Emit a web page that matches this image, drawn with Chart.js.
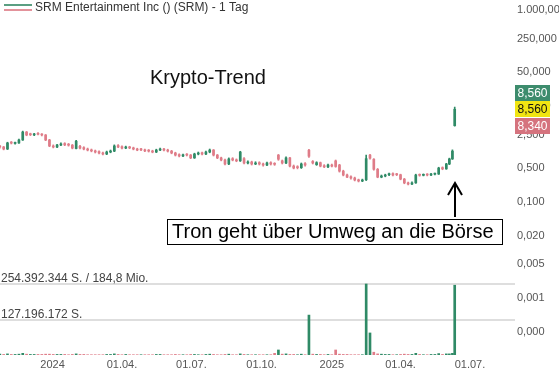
<!DOCTYPE html>
<html>
<head>
<meta charset="utf-8">
<script src="https://cdn.jsdelivr.net/npm/chart.js@4.4.0/dist/chart.umd.min.js"></script>
<style>
  html, body { margin: 0; padding: 0; background: #fff; }
  #wrap { width: 559px; height: 374px; }
</style>
</head>
<body>
<div id="wrap"><canvas id="priceChart" width="559" height="374"></canvas></div>
<script>
// Calendar days counted from 01.01.2024
const days = [-69, -64, -59, -54, -49, -44, -39, -34, -29, -24, -19, -14, -9, -4, 1, 6, 11, 16, 21, 26,
    31, 36, 41, 46, 51, 56, 61, 66, 71, 76, 81, 86, 91, 96, 101, 106, 111, 116, 121, 126,
    131, 136, 141, 146, 151, 156, 161, 166, 171, 176, 181, 186, 191, 196, 201, 206, 211, 216, 221, 226,
    231, 236, 241, 246, 251, 256, 261, 266, 271, 276, 281, 286, 291, 296, 301, 306, 311, 316, 321, 326,
    331, 336, 341, 346, 351, 356, 361, 366, 371, 376, 381, 386, 391, 396, 401, 406, 411, 416, 421, 426,
    431, 436, 441, 446, 451, 456, 461, 466, 471, 476, 481, 486, 491, 496, 501, 506, 511, 516, 520, 524, 527];

const opens = [1.45, 1.40, 1.27, 1.75, 1.66, 1.70, 1.96, 2.87, 2.60, 2.50, 2.70, 2.58, 2.49, 1.96, 1.47, 1.40, 1.54, 1.65, 1.60, 1.53,
    1.30, 1.45, 1.36, 1.27, 1.21, 1.16, 1.12, 1.05, 1.00, 1.10, 1.15, 1.50, 1.42, 1.33, 1.40, 1.34, 1.27, 1.26, 1.22, 1.19,
    1.15, 1.10, 1.21, 1.27, 1.21, 1.15, 1.05, 0.97, 0.91, 0.98, 0.95, 0.83, 1.00, 1.06, 1.00, 1.10, 1.21, 0.95, 0.83, 0.75,
    0.62, 0.80, 0.75, 0.72, 0.80, 0.65, 0.68, 0.62, 0.66, 0.62, 0.59, 0.66, 0.63, 0.95, 0.72, 0.65, 0.83, 0.56, 0.54, 0.52,
    0.63, 1.20, 0.70, 0.60, 0.66, 0.57, 0.54, 0.59, 0.72, 0.59, 0.44, 0.365, 0.335, 0.316, 0.29, 0.274, 0.29, 0.95, 0.78, 0.48,
    0.33, 0.348, 0.37, 0.39, 0.38, 0.37, 0.30, 0.25, 0.237, 0.25, 0.37, 0.36, 0.375, 0.365, 0.38, 0.383, 0.52, 0.49, 0.62, 0.79,
    3.90];

const highs = [1.52, 1.44, 1.76, 1.82, 1.78, 2.05, 3.00, 2.95, 2.72, 2.70, 2.78, 2.66, 2.55, 2.02, 1.55, 1.60, 1.70, 1.72, 1.66, 1.58,
    1.92, 1.52, 1.42, 1.33, 1.27, 1.21, 1.17, 1.10, 1.15, 1.21, 1.55, 1.57, 1.48, 1.46, 1.45, 1.39, 1.32, 1.31, 1.27, 1.24,
    1.20, 1.26, 1.33, 1.31, 1.26, 1.19, 1.09, 1.01, 1.00, 1.02, 0.98, 1.04, 1.10, 1.10, 1.15, 1.27, 1.24, 0.98, 0.86, 0.78,
    0.83, 0.84, 0.79, 1.14, 0.84, 0.72, 0.71, 0.69, 0.69, 0.65, 0.68, 0.69, 0.66, 0.98, 0.75, 0.87, 0.85, 0.59, 0.57, 0.65,
    0.66, 1.25, 0.73, 0.69, 0.68, 0.60, 0.62, 0.62, 0.75, 0.61, 0.46, 0.38, 0.35, 0.33, 0.30, 0.30, 0.95, 0.99, 0.80, 0.50,
    0.365, 0.38, 0.40, 0.405, 0.395, 0.38, 0.31, 0.26, 0.262, 0.38, 0.385, 0.385, 0.39, 0.395, 0.40, 0.53, 0.54, 0.64, 0.82, 1.22,
    9.50];

const lows = [1.33, 1.22, 1.24, 1.62, 1.60, 1.66, 1.92, 2.40, 2.42, 2.41, 2.50, 2.38, 1.90, 1.42, 1.34, 1.36, 1.50, 1.49, 1.46, 1.28,
    1.27, 1.28, 1.22, 1.16, 1.11, 1.05, 1.01, 0.96, 0.97, 1.06, 1.12, 1.35, 1.28, 1.29, 1.29, 1.22, 1.17, 1.17, 1.12, 1.10,
    1.06, 1.07, 1.17, 1.16, 1.10, 1.01, 0.91, 0.87, 0.88, 0.91, 0.80, 0.81, 0.96, 0.96, 0.97, 1.06, 0.91, 0.80, 0.72, 0.59,
    0.60, 0.72, 0.69, 0.70, 0.62, 0.62, 0.59, 0.60, 0.59, 0.56, 0.57, 0.59, 0.58, 0.74, 0.62, 0.63, 0.54, 0.49, 0.49, 0.50,
    0.56, 0.85, 0.62, 0.58, 0.54, 0.52, 0.52, 0.54, 0.53, 0.42, 0.35, 0.32, 0.30, 0.275, 0.262, 0.265, 0.28, 0.78, 0.46, 0.32,
    0.32, 0.335, 0.355, 0.35, 0.355, 0.29, 0.24, 0.228, 0.23, 0.245, 0.345, 0.35, 0.35, 0.355, 0.365, 0.375, 0.47, 0.48, 0.60, 0.77,
    3.80];

const closes = [1.40, 1.27, 1.70, 1.69, 1.70, 1.96, 2.87, 2.49, 2.52, 2.61, 2.58, 2.49, 1.96, 1.47, 1.40, 1.54, 1.62, 1.55, 1.53, 1.33,
    1.85, 1.33, 1.27, 1.21, 1.16, 1.10, 1.05, 1.00, 1.10, 1.15, 1.47, 1.40, 1.33, 1.40, 1.34, 1.27, 1.21, 1.22, 1.16, 1.15,
    1.10, 1.21, 1.27, 1.21, 1.15, 1.05, 0.95, 0.91, 0.96, 0.95, 0.83, 1.00, 1.05, 1.00, 1.10, 1.21, 0.95, 0.83, 0.75, 0.62,
    0.79, 0.75, 0.72, 1.10, 0.65, 0.68, 0.62, 0.65, 0.62, 0.59, 0.65, 0.62, 0.61, 0.78, 0.65, 0.83, 0.56, 0.51, 0.52, 0.62,
    0.59, 0.90, 0.65, 0.66, 0.56, 0.54, 0.59, 0.56, 0.55, 0.44, 0.365, 0.33, 0.316, 0.287, 0.274, 0.287, 0.80, 0.82, 0.48, 0.33,
    0.348, 0.365, 0.383, 0.365, 0.37, 0.30, 0.25, 0.237, 0.25, 0.365, 0.36, 0.37, 0.365, 0.38, 0.383, 0.51, 0.49, 0.62, 0.79, 1.15,
    8.56];

// Volume in millions of shares
const volumes = [3, 2, 4, 2, 2, 3, 6, 3, 2, 2, 2, 2, 3, 3, 2, 2, 2, 2, 1, 2,
    4, 2, 2, 1, 1, 1, 1, 1, 2, 2, 4, 2, 1, 2, 1, 1, 1, 1, 1, 1,
    1, 2, 2, 1, 1, 1, 2, 1, 1, 1, 2, 2, 1, 1, 2, 3, 2, 1, 1, 2,
    3, 1, 1, 4, 2, 1, 1, 1, 1, 1, 1, 1, 6, 18, 3, 4, 2, 2, 1, 3,
    1, 143, 3, 2, 2, 1, 2, 1, 18, 3, 2, 2, 1, 1, 1, 1, 254.392344, 79, 10, 4,
    3, 2, 2, 1, 1, 2, 3, 2, 2, 6, 2, 1, 1, 2, 2, 5, 2, 4, 4, 6, 250];

const priceTicks = [1000, 250, 50, 10, 2.5, 0.5, 0.1, 0.02, 0.005, 0.001, 0.0002];
const dateTicks = [0, 91, 182, 274, 366, 456, 547];
const dateTickLabels = ['2024', '01.04.', '01.07.', '01.10.', '2025', '01.04.', '01.07.'];

const volumeLines = [254.392344, 127.196172];
const volumeLineLabels = ['254.392.344 S. / 184,8 Mio.', '127.196.172 S.'];

const tagValues = ['8,560', '8,560', '8,340'];

const GREEN = '#2f8a66';
const PINK = '#df7c88';
const FONT = '"Liberation Sans", Arial, sans-serif';

function formatDe(v) {
    const parts = v.toFixed(3).split('.');
    return parts[0].replace(/\B(?=(\d{3})+(?!\d))/g, '.') + ',' + parts[1];
}

const candleColors = closes.map((c, i) => c >= opens[i] ? GREEN : PINK);
const volumeColors = closes.map((c, i) => (i === 0 || c >= closes[i - 1]) ? GREEN : PINK);

const overlayPlugin = {
    id: 'overlay',
    beforeDatasetsDraw(chart) {
        const ctx = chart.ctx;
        const area = chart.chartArea;
        const vol = chart.scales.yVol;
        ctx.save();
        volumeLines.forEach((v, i) => {
            const y = Math.round(vol.getPixelForValue(v));
            ctx.fillStyle = '#dedede';
            ctx.fillRect(area.left, y - 1, area.right - area.left, 2);
            ctx.fillStyle = '#444';
            ctx.font = '12px ' + FONT;
            ctx.textBaseline = 'alphabetic';
            ctx.textAlign = 'left';
            ctx.fillText(volumeLineLabels[i], 1, y - 2);
        });
        ctx.restore();
    },
    afterDraw(chart) {
        const ctx = chart.ctx;
        const xs = chart.scales.x;
        const ys = chart.scales.y;
        ctx.save();

        // header legend
        ctx.fillStyle = '#5a9f82';
        ctx.fillRect(4, 4, 28, 2);
        ctx.fillStyle = '#e3929b';
        ctx.fillRect(4, 9, 28, 2);
        ctx.fillStyle = '#333';
        ctx.font = '12px ' + FONT;
        ctx.textBaseline = 'middle';
        ctx.textAlign = 'left';
        ctx.fillText('SRM Entertainment Inc () (SRM) - 1 Tag', 35, 8);

        // annotation text
        ctx.fillStyle = '#111';
        ctx.font = '20px ' + FONT;
        ctx.fillText('Krypto-Trend', 150, 78);

        // annotation box
        ctx.fillStyle = '#fff';
        ctx.fillRect(167, 219, 335, 25);
        ctx.strokeStyle = '#000';
        ctx.lineWidth = 1;
        ctx.strokeRect(167.5, 219.5, 335, 25);
        ctx.fillStyle = '#000';
        ctx.fillText('Tron geht über Umweg an die Börse', 172, 232);

        // arrow pointing to last candle
        const ax = Math.round(xs.getPixelForValue(days[days.length - 1]));
        ctx.strokeStyle = '#000';
        ctx.lineWidth = 2;
        ctx.beginPath();
        ctx.moveTo(ax, 217);
        ctx.lineTo(ax, 184);
        ctx.moveTo(ax - 7, 195);
        ctx.lineTo(ax, 183);
        ctx.lineTo(ax + 7, 195);
        ctx.stroke();

        // price tags on the right
        const mid = ys.getPixelForValue(closes[closes.length - 1]);
        const tags = [
            { text: tagValues[0], bg: '#3d8c6d', fg: '#fff', top: mid - 24.5 },
            { text: tagValues[1], bg: '#f1e512', fg: '#111', top: mid - 8.5 },
            { text: tagValues[2], bg: '#d5737e', fg: '#fff', top: mid + 8.5 }
        ];
        ctx.font = '12px ' + FONT;
        ctx.textAlign = 'center';
        tags.forEach(t => {
            ctx.fillStyle = t.bg;
            ctx.fillRect(515, Math.round(t.top), 35, 16);
            ctx.fillStyle = t.fg;
            ctx.fillText(t.text, 532.5, Math.round(t.top) + 8.5);
        });
        ctx.restore();
    }
};

Chart.defaults.font.family = FONT;
Chart.defaults.color = '#555';

const ctx = document.getElementById('priceChart').getContext('2d');
new Chart(ctx, {
    type: 'bar',
    data: {
        datasets: [{
            label: 'Kurs',
            data: days.map((d, i) => ({ x: d, y: [opens[i], closes[i]] })),
            backgroundColor: candleColors,
            barThickness: 2,
            minBarLength: 1,
            grouped: false,
            yAxisID: 'y'
        }, {
            label: 'Spanne',
            data: days.map((d, i) => ({ x: d, y: [lows[i], highs[i]] })),
            backgroundColor: candleColors,
            barThickness: 1,
            grouped: false,
            yAxisID: 'y'
        }, {
            label: 'Volumen',
            data: days.map((d, i) => ({ x: d, y: volumes[i] })),
            backgroundColor: volumeColors,
            barThickness: 2,
            grouped: false,
            yAxisID: 'yVol'
        }]
    },
    options: {
        responsive: false,
        animation: false,
        events: [],
        layout: { padding: 0 },
        plugins: {
            legend: { display: false },
            tooltip: { enabled: false }
        },
        scales: {
            x: {
                type: 'linear',
                min: -68.8,
                max: 606,
                offset: false,
                bounds: 'data',
                grid: { display: false, drawTicks: false },
                border: { display: false },
                ticks: {
                    padding: 3,
                    maxRotation: 0,
                    autoSkip: false,
                    font: { size: 11 },
                    callback: v => dateTickLabels[dateTicks.indexOf(v)]
                },
                afterBuildTicks: s => { s.ticks = dateTicks.map(v => ({ value: v })); },
                afterFit: s => { s.height = 19; s.paddingLeft = 0; s.paddingRight = 0; }
            },
            y: {
                type: 'logarithmic',
                position: 'right',
                min: 6.5e-5,
                max: 1616,
                bounds: 'data',
                grid: { display: false, drawTicks: false },
                border: { display: false },
                ticks: {
                    padding: 2,
                    autoSkip: false,
                    font: { size: 11 },
                    callback: v => formatDe(v)
                },
                afterBuildTicks: s => { s.ticks = priceTicks.map(v => ({ value: v })); },
                afterFit: s => { s.width = 44; s.paddingTop = 0; s.paddingBottom = 0; }
            },
            yVol: {
                type: 'linear',
                display: false,
                min: 0,
                max: volumeLines[0] * 5
            }
        }
    },
    plugins: [overlayPlugin]
});
</script>
</body>
</html>
